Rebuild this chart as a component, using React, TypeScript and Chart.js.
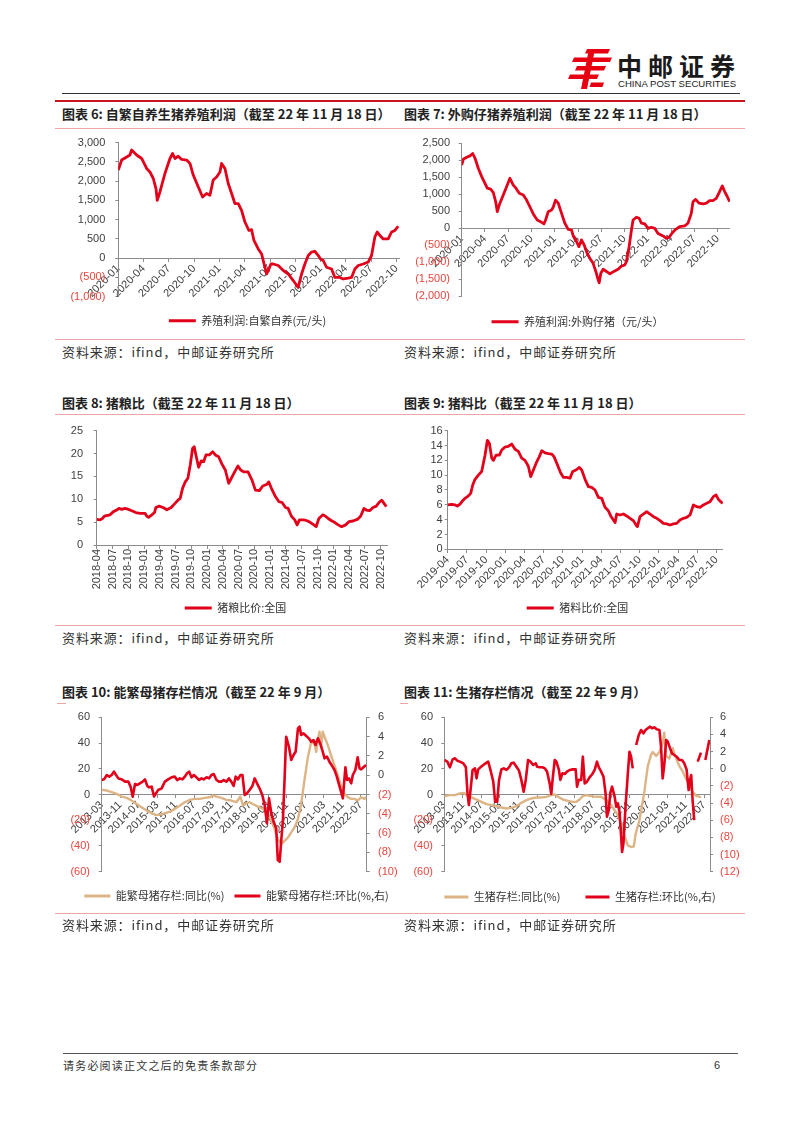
import { useEffect, useRef } from 'react';
import { Chart, registerables } from 'chart.js';

Chart.register(...registerables);

const CJK = "'Noto Sans CJK SC', 'Noto Sans', sans-serif";
const LAT = "'Liberation Sans', Arial, sans-serif";
const RED = '#E2001A';
const TAN = '#DDB485';
const AXIS = '#8C8C8C';
const TXT = '#404040';
const NEG = '#E8463E';
const RULE = '#EBA6A6';
const FS = 11;

// ---------- tick labels ----------
const ticksProfit = ['2020-01', '2020-04', '2020-07', '2020-10', '2021-01', '2021-04', '2021-07', '2021-10', '2022-01', '2022-04', '2022-07', '2022-10'];
const ticksGrain = ['2018-04', '2018-07', '2018-10', '2019-01', '2019-04', '2019-07', '2019-10', '2020-01', '2020-04', '2020-07', '2020-10', '2021-01', '2021-04', '2021-07', '2021-10', '2022-01', '2022-04', '2022-07', '2022-10'];
const ticksFeed = ['2019-04', '2019-07', '2019-10', '2020-01', '2020-04', '2020-07', '2020-10', '2021-01', '2021-04', '2021-07', '2021-10', '2022-01', '2022-04', '2022-07', '2022-10'];
const ticksStock = ['2013-03', '2013-11', '2014-07', '2015-03', '2015-11', '2016-07', '2017-03', '2017-11', '2018-07', '2019-03', '2019-11', '2020-07', '2021-03', '2021-11', '2022-07'];

// ---------- Chart 6: self-bred profit (months since 2020-01) ----------
const selfT = [0, 0.4, 1.38, 1.58, 2.17, 2.77, 3.36, 3.75, 4.15, 4.47, 4.62, 4.94, 5.53, 6.13, 6.44, 6.72, 7.11, 7.51, 8.1, 8.5, 8.89, 9.49, 10.0, 10.47, 10.87, 11.26, 11.66, 12.06, 12.25, 12.65, 13.04, 13.44, 13.83, 14.23, 14.62, 15.02, 15.49, 15.81, 16.09, 16.6, 17.0, 17.39, 17.59, 17.79, 18.1, 18.38, 18.97, 19.57, 20.16, 20.75, 21.34, 21.74, 22.13, 22.53, 22.92, 23.32, 23.72, 23.99, 24.31, 24.7, 25.3, 25.69, 26.28, 26.68, 27.27, 27.67, 28.06, 28.46, 29.05, 29.64, 30.04, 30.43, 30.71, 31.03, 31.42, 32.02, 32.41, 32.81, 33.2];
const selfV = [2290, 2550, 2680, 2810, 2680, 2590, 2330, 2240, 2070, 1810, 1500, 1720, 2200, 2590, 2720, 2590, 2650, 2565, 2550, 2460, 2160, 1850, 1590, 1680, 1635, 2030, 2110, 2240, 2460, 2330, 1940, 1680, 1420, 1420, 1240, 940, 720, 740, 460, 240, 110, -235, -410, -320, -150, -150, -190, -320, -410, -580, -760, -410, -150, 70, 160, 180, 70, -20, -60, -235, -280, -500, -500, -540, -520, -500, -280, -190, -150, -100, 70, 550, 680, 590, 500, 500, 680, 720, 830];

// ---------- Chart 7: purchased-piglet profit (months since 2020-01) ----------
const buyT = [0, 0.21, 0.64, 1.07, 1.42, 1.72, 2.15, 2.58, 3.0, 3.3, 3.73, 4.08, 4.38, 4.59, 4.85, 5.36, 5.79, 6.22, 6.65, 7.0, 7.42, 7.94, 8.37, 8.88, 9.31, 9.74, 10.17, 10.6, 10.82, 11.16, 11.59, 11.8, 12.1, 12.45, 12.88, 13.3, 13.73, 14.16, 14.38, 14.81, 15.11, 15.45, 15.79, 16.18, 16.52, 16.95, 17.3, 17.6, 17.73, 17.94, 18.24, 18.67, 19.1, 19.61, 20.17, 20.6, 21.03, 21.24, 21.59, 21.89, 22.1, 22.53, 22.88, 23.18, 23.61, 24.03, 24.46, 24.89, 25.32, 25.97, 26.39, 26.74, 27.17, 27.6, 28.11, 28.76, 29.18, 29.61, 29.83, 30.17, 30.6, 31.12, 31.55, 31.97, 32.4, 32.83, 33.26, 33.61, 33.91, 34.21, 34.55];
const buyV = [1860, 2030, 2090, 2130, 2200, 2060, 1760, 1520, 1320, 1180, 1150, 1050, 780, 490, 690, 980, 1225, 1470, 1270, 1180, 1030, 980, 830, 590, 390, 245, 195, 130, 245, 490, 540, 620, 830, 740, 440, 150, -30, -50, -225, -390, -540, -340, -490, -735, -880, -1030, -1270, -1520, -1600, -1320, -1205, -1270, -1340, -1270, -1205, -1110, -1080, -980, -540, -50, 245, 325, 295, 150, 130, 0, 30, 0, -150, -225, -295, -265, -130, -30, 50, 70, 150, 440, 780, 850, 740, 715, 740, 815, 815, 880, 1080, 1245, 1080, 950, 780];

// ---------- Chart 8: hog/grain ratio (months since 2018-04) ----------
const grainT = [0, 0.64, 1.08, 1.46, 2.1, 2.54, 3.18, 3.81, 4.26, 4.76, 5.4, 6.04, 6.67, 7.43, 8.26, 9.21, 9.53, 9.85, 10.48, 10.99, 11.25, 11.88, 12.71, 13.34, 14.17, 14.8, 15.44, 15.88, 16.33, 16.84, 17.34, 17.79, 18.23, 18.55, 18.87, 19.38, 19.89, 20.33, 20.78, 21.41, 22.05, 22.55, 23.19, 23.82, 24.46, 25.1, 25.6, 26.24, 26.87, 27.38, 27.95, 28.78, 29.54, 30.18, 30.94, 31.58, 32.4, 32.72, 33.23, 33.99, 34.63, 35.26, 35.9, 36.4, 37.04, 37.67, 38.12, 38.56, 39.39, 40.03, 40.66, 41.3, 41.74, 42.25, 43.01, 43.52, 44.03, 44.66, 45.3, 45.93, 46.57, 47.33, 47.97, 48.73, 49.56, 50.19, 50.83, 51.27, 51.91, 52.54, 53.18, 53.68, 54.19, 54.64, 55.08];
const grainV = [5.6, 5.5, 5.8, 6.3, 6.5, 6.6, 7.3, 7.65, 8.0, 7.8, 8.0, 7.8, 7.5, 7.1, 6.9, 6.9, 6.3, 6.05, 6.6, 7.1, 8.2, 8.5, 8.15, 7.7, 8.2, 9.0, 9.8, 10.2, 12.4, 13.8, 14.6, 17.5, 21.1, 21.5, 19.7, 17.0, 18.4, 18.2, 19.7, 19.7, 20.4, 19.7, 19.3, 17.7, 16.4, 13.5, 14.6, 16.0, 17.3, 16.4, 16.0, 16.0, 14.2, 12.0, 11.9, 12.9, 13.3, 13.8, 12.4, 10.6, 9.5, 9.3, 8.2, 8.0, 6.3, 5.5, 4.4, 5.5, 5.5, 5.3, 4.9, 4.4, 4.0, 5.8, 6.6, 6.3, 5.8, 5.3, 4.9, 4.4, 4.0, 4.4, 5.1, 5.25, 5.6, 6.3, 8.0, 7.65, 7.5, 8.2, 8.5, 9.3, 9.8, 9.1, 8.4];

// ---------- Chart 9: hog/feed ratio (months since 2019-04) ----------
const feedT = [0, 0.63, 1.15, 1.51, 1.93, 2.34, 2.71, 3.23, 3.59, 3.91, 4.27, 4.79, 5.31, 5.83, 6.2, 6.51, 6.88, 7.14, 7.55, 8.07, 8.44, 8.96, 9.48, 10.0, 10.52, 11.04, 11.56, 12.08, 12.6, 12.97, 13.39, 13.91, 14.32, 14.69, 15.21, 15.73, 16.25, 16.61, 17.14, 17.66, 18.07, 18.59, 19.11, 19.53, 20.05, 20.57, 20.94, 21.46, 21.98, 22.5, 23.02, 23.54, 24.06, 24.58, 25.1, 25.47, 25.89, 26.15, 26.41, 26.93, 27.45, 27.97, 28.49, 29.01, 29.43, 29.64, 30.05, 30.57, 31.09, 31.61, 32.14, 32.66, 33.18, 33.7, 34.22, 34.74, 35.26, 35.78, 36.3, 36.82, 37.34, 37.86, 38.39, 38.91, 39.43, 39.95, 40.47, 40.99, 41.51, 41.93, 42.29, 42.66, 42.97];
const feedV = [5.98, 6.07, 5.98, 5.84, 6.1, 6.56, 6.88, 7.2, 7.55, 8.67, 9.44, 10.0, 10.5, 12.7, 14.7, 14.3, 12.3, 12.0, 12.7, 12.7, 13.4, 13.8, 13.9, 14.2, 13.5, 13.2, 12.3, 12.0, 11.2, 9.8, 10.7, 11.8, 12.5, 13.3, 13.0, 12.9, 12.85, 12.5, 11.4, 10.3, 9.7, 9.7, 9.6, 10.5, 10.7, 11.05, 10.7, 9.44, 8.45, 8.36, 8.0, 7.0, 6.88, 5.66, 5.2, 4.5, 3.96, 3.6, 4.76, 4.63, 4.76, 4.5, 4.18, 3.87, 3.28, 3.06, 4.4, 4.76, 5.08, 4.76, 4.4, 4.18, 3.87, 3.5, 3.42, 3.28, 3.42, 3.5, 3.96, 4.18, 4.31, 4.63, 5.98, 5.75, 5.66, 5.98, 6.2, 6.43, 7.1, 7.33, 6.74, 6.43, 6.2];

// ---------- Chart 10: breeding sows (months since 2013-03) ----------
const sowYoYT = [0, 2.2, 4.3, 6.5, 8.6, 10.8, 12.9, 15.1, 17.2, 19.4, 21.6, 23.4, 25.1, 27.3, 29.5, 31.6, 33.8, 35.9, 38.1, 40.2, 42.4, 44.5, 46.7, 48.1, 49.6, 51.7, 53.9, 56.0, 58.2, 59.9, 61.1, 62.5, 63.9, 65.7, 67.5, 69.7, 71.8, 73.3, 74.7, 76.1, 77.6, 79.0, 80.5, 81.9, 83.3, 84.8, 86.2, 87.6, 89.1, 90.5, 92.0, 92.7, 93.4, 94.1, 94.8, 95.5, 96.3, 97.7, 99.1, 100.6, 102.0, 103.4, 104.9, 106.3, 107.8, 109.2, 110.6, 112.1, 113.5, 114.2];
const sowYoYV = [3.6, 3.1, 1.8, 0.5, -1.6, -2.6, -4.7, -7.3, -9.9, -12.5, -14.6, -15.9, -15.6, -14.6, -13.3, -11.2, -8.6, -6.0, -4.2, -3.4, -3.4, -2.6, -2.1, -0.8, -1.6, -2.6, -4.2, -4.7, -6.0, -1.6, -8.6, -6.8, -6.0, -7.8, -9.4, -11.2, -15.1, -20.3, -26.9, -34.7, -38.6, -36.0, -33.4, -29.5, -25.6, -19.0, -7.3, 11.0, 29.2, 40.9, 39.1, 33.1, 42.2, 48.8, 37.0, 48.8, 44.9, 38.3, 30.5, 22.7, 14.9, 7.0, 0.5, -2.1, -3.4, -3.4, -4.7, -2.1, -3.4, -2.1];
const sowMoMT = [0, 1.0, 2.2, 3.3, 4.3, 5.3, 6.2, 7.2, 8.6, 10.1, 11.5, 12.5, 13.4, 14.4, 15.4, 16.5, 17.7, 18.7, 19.7, 20.5, 21.6, 22.6, 23.4, 24.4, 25.9, 27.3, 28.7, 30.2, 31.6, 32.6, 33.8, 34.9, 35.9, 36.9, 37.8, 38.8, 39.8, 40.9, 42.1, 43.1, 44.1, 45.3, 46.4, 47.4, 48.4, 49.6, 50.7, 51.7, 52.7, 53.9, 55.0, 56.0, 57.0, 57.9, 58.9, 59.9, 60.8, 61.8, 62.8, 63.9, 65.1, 66.1, 67.1, 68.2, 69.4, 70.4, 71.4, 72.3, 73.3, 74.3, 75.4, 76.1, 76.9, 77.6, 78.3, 79.0, 79.7, 80.9, 81.9, 82.9, 83.8, 84.8, 85.5, 86.2, 87.2, 88.4, 89.5, 90.5, 91.5, 92.4, 93.4, 94.4, 95.3, 96.3, 97.3, 98.4, 99.6, 100.6, 101.6, 102.4, 103.4, 104.2, 104.9, 105.3, 106.0, 106.8, 107.8, 108.5, 109.6, 110.6, 111.4, 112.1, 113.1, 114.2];
const sowMoMV = [-0.5, -0.43, 0.02, -0.15, 0.02, 0.37, 0.02, -0.33, -0.43, -0.67, -0.67, -1.19, -2.23, -0.91, -1.02, -0.84, -0.67, -0.43, -1.12, -1.26, -1.19, -2.2, -1.9, -1.53, -1.36, -0.67, -0.43, -0.22, -0.15, -0.5, -0.33, -0.43, -0.15, 0.19, 0.37, -0.22, 0.02, -0.22, -0.5, -0.33, -0.43, -0.22, -0.33, 0.02, 0.12, -0.5, -0.67, -0.67, -0.5, -0.67, -0.33, -0.67, -1.12, -0.15, -0.43, 0.02, 0.02, -2.06, -1.88, -1.53, -1.12, -0.33, -0.84, -1.36, -2.06, -3.1, -5.0, -2.4, -3.96, -4.83, -5.51, -8.8, -8.97, -6.7, -4.65, -0.5, 3.99, 2.95, 1.57, 2.09, 2.43, 4.85, 5.03, 4.17, 4.34, 4.06, 3.82, 3.47, 3.64, 3.13, 3.82, 3.3, 2.61, 1.75, 1.92, 1.4, 0.95, 0.54, -0.15, -0.84, -1.71, -2.4, -0.33, 0.82, -0.5, -0.33, -0.84, 0.02, 0.54, 1.85, 0.71, 0.61, 0.82, 1.06];

// ---------- Chart 11: live hogs (months since 2013-03) ----------
const hogYoYT = [0, 2.4, 4.6, 6.7, 8.5, 9.6, 11.7, 13.9, 16.0, 18.2, 20.3, 22.5, 24.6, 26.8, 28.9, 31.1, 33.2, 35.4, 37.5, 39.7, 41.8, 44.0, 46.1, 47.6, 49.0, 51.1, 53.3, 55.4, 56.9, 58.3, 59.7, 61.2, 63.3, 65.5, 67.6, 69.8, 71.9, 73.4, 74.8, 76.2, 77.6, 79.1, 80.5, 81.7, 82.4, 84.1, 86.2, 87.7, 89.1, 89.8, 91.3, 92.7, 94.1, 94.8, 95.6, 97.0, 98.4, 99.9, 101.3, 102.7, 104.2, 105.6, 107.0, 108.5, 110.6];
const hogYoYV = [-1.3, -0.5, -0.5, 0.8, 1.3, -0.5, -2.3, -3.9, -5.7, -7.5, -8.3, -9.1, -10.1, -10.9, -10.4, -9.1, -6.5, -4.4, -3.1, -2.3, -2.3, -1.8, -0.5, 0, -1.8, -3.9, -4.9, -5.7, -5.7, -3.9, -1.3, -0.5, -1.3, -1.8, -1.8, -4.4, -8.3, -12.2, -16.1, -22.6, -31.7, -39.5, -40.8, -40.3, -31, -20, 2, 22, 31, 33, 30, 33, 40, 48, 30, 28, 36, 28, 22, 18, 12, 8, 2, -1, -2];
const hogMoMT = [0, 1.3, 2.4, 3.6, 4.6, 5.6, 6.7, 8.2, 9.3, 10.0, 10.6, 11.3, 12.2, 13.2, 13.9, 14.6, 15.6, 16.8, 18.2, 18.9, 19.9, 21.1, 21.9, 22.8, 23.6, 24.6, 25.6, 26.8, 27.9, 28.9, 29.9, 31.1, 32.2, 33.2, 34.2, 35.1, 36.1, 37.1, 38.3, 39.4, 40.0, 41.1, 42.3, 43.3, 44.3, 45.4, 46.1, 46.8, 47.6, 48.3, 49.4, 50.0, 50.9, 51.9, 52.9, 54.0, 55.4, 56.6, 57.2, 57.9, 59.0, 59.7, 60.5, 61.5, 62.6, 63.8, 64.8, 65.8, 66.6, 67.6, 68.6, 69.5, 70.1, 70.9, 71.5, 72.3, 73.4, 74.1, 74.8, 75.5, 76.2, 76.6, 77.2, 78.1, 79.1, 79.8, 80.5, 81.2, 82.0, 82.7, 83.8, 84.8, 85.8, 86.7, 87.7, 88.7, 89.5, 90.5, 91.5, 92.7, 93.4, 94.1, 94.8, 95.6, 96.3, 97.3, 98.1, 99.1, 100.1, 101.3, 102.4, 103.4, 104.4, 105.3, 105.9, 106.4, 107.0, 107.7, 108.5, 109.2, 110.6, 111.5, 112.5, 113.5, 114.2];
const hogMoMV = [1.02, 0.83, 0.17, 1.1, 1.22, 0.94, 0.83, 0.63, 0.17, -2.87, -4.23, -2.48, -0.14, 0.05, -1.12, -0.07, 0.17, 0.44, 0.71, 0.83, -0.14, -1.5, -3.83, -3.83, -1.3, -0.07, 0.05, -0.14, 0.17, 0.63, 0.71, 0.24, -0.22, -1.3, -2.67, -1.3, 1.02, 0.83, 0.44, 0.63, 0.24, 0.17, 0.17, 0.05, -0.34, -1.7, -2.94, -0.92, 1.02, 0.83, -0.14, -1.3, -0.53, -0.61, -0.34, -0.14, -0.07, -0.07, -2.09, -1.3, -1.3, 1.41, -1.7, -1.5, -1.0, -0.61, -0.14, 0.83, 0.17, -0.34, -0.92, -2.87, -5.59, -4.8, -2.87, -2.09, -3.25, -4.42, -4.03, -5.0, -7.9, -9.7, -8.7, -4.42, -0.53, 1.99, 1.41, 0.05, null, 2.77, 3.94, 4.52, 4.13, 4.52, 4.72, 4.91, 4.72, 4.83, 4.6, 4.52, 2.57, -1.12, 0.44, 3.36, 3.16, 2.38, 1.8, 1.61, 1.41, 1.02, 1.02, 0.63, -0.07, -2.48, -1.3, -0.73, -3.64, -5.98, null, 0.83, 1.88, null, 1.02, 2.38, 3.36];

// ---------- helpers ----------
type Axis = { min: number; max: number; step: number; comma?: boolean; pad: number };
type Series = { label: string; t: number[]; v: (number | null)[]; color: string; width: number; axis?: string; order?: number };
type Spec = {
  cx: number; cy: number; L: number; R: number; T: number; B: number; Ly: number; Lc: number;
  clipW?: number; legendPad: number; boxW: number;
  xMax: number; xStep: number; xLabels: string[]; xRot: number;
  y: Axis; y1?: Axis; series: Series[];
};

function fmt(v: number, comma: boolean) {
  const a = Math.abs(v);
  let s = String(Math.round(a * 100) / 100);
  if (comma) s = s.replace(/\B(?=(\d{3})+(?!\d))/g, ',');
  return v < 0 ? `(${s})` : s;
}

function geometry(s: Spec) {
  const legendH = FS + s.legendPad + 10;
  const shift = s.Ly - s.B - s.legendPad - FS / 2;
  const ch = Math.ceil(s.B - s.cy + legendH + Math.max(shift, 0) + 4);
  const padT = s.T - s.cy;
  const padB = ch - (s.B - s.cy) - legendH;
  let cw: number;
  let padR = 0;
  let wr = 0;
  const wl = s.L - s.cx;
  if (s.y1) {
    cw = Math.round(2 * (s.Lc - s.cx));
    wr = s.cx + cw - s.R;
  } else {
    cw = Math.ceil(s.R - s.cx);
    padR = s.cx + cw - s.R;
  }
  const legendCentre = s.cx + (cw - padR) / 2;
  const dx = s.Lc - legendCentre;
  return { cw, ch, padT, padB, padL: 0, padR, wl, wr, shift, dx };
}

const legendShift = {
  id: 'legendShift',
  afterLayout(chart: any, _args: any, opts: any) {
    const l = chart.legend;
    if (l && opts) {
      l.top += opts.shift || 0;
      l.bottom += opts.shift || 0;
      l.left += opts.dx || 0;
      l.right += opts.dx || 0;
    }
  },
};

function yAxis(a: Axis, pos: string, width: number) {
  return {
    type: 'linear',
    position: pos,
    min: a.min,
    max: a.max,
    afterBuildTicks: (sc: any) => {
      const t: any[] = [];
      for (let v = a.min; v <= a.max + 1e-9; v += a.step) t.push({ value: v });
      sc.ticks = t;
    },
    afterFit: (sc: any) => {
      sc.width = width;
      sc.paddingTop = 0;
      sc.paddingBottom = 0;
      sc.paddingLeft = 0;
      sc.paddingRight = 0;
    },
    ticks: {
      autoSkip: false,
      padding: a.pad,
      color: (c: any) => (c.tick && c.tick.value < 0 ? NEG : TXT),
      font: { family: LAT, size: 11 },
      callback: (v: any) => fmt(Number(v), !!a.comma),
    },
    grid: { display: true, drawOnChartArea: false, drawTicks: true, tickLength: 3, color: AXIS },
    border: { display: true, color: AXIS, width: 1 },
  };
}

function buildConfig(s: Spec, g: ReturnType<typeof geometry>): any {
  const scales: any = {
    x: {
      type: 'linear',
      position: { y: 0 },
      min: 0,
      max: s.xMax,
      afterBuildTicks: (sc: any) => {
        sc.ticks = s.xLabels.map((_l, i) => ({ value: i * s.xStep }));
      },
      afterFit: (sc: any) => {
        sc.paddingLeft = 0;
        sc.paddingRight = 0;
        sc.paddingTop = 0;
        sc.paddingBottom = 0;
      },
      ticks: {
        autoSkip: false,
        minRotation: s.xRot,
        maxRotation: s.xRot,
        padding: 1,
        color: TXT,
        font: { family: LAT, size: 11 },
        callback: (_v: any, i: number) => s.xLabels[i],
      },
      grid: { display: true, drawOnChartArea: false, drawTicks: true, tickLength: 3, color: AXIS },
      border: { display: true, color: AXIS, width: 1 },
    },
    y: yAxis(s.y, 'left', g.wl),
  };
  if (s.y1) scales.y1 = yAxis(s.y1, 'right', g.wr);

  return {
    type: 'line',
    data: {
      datasets: s.series.map((se) => ({
        label: se.label,
        data: se.t.map((t, i) => ({ x: t, y: se.v[i] })),
        borderColor: se.color,
        backgroundColor: se.color,
        borderWidth: se.width,
        pointRadius: 0,
        tension: 0,
        spanGaps: false,
        yAxisID: se.axis || 'y',
        order: se.order || 0,
        borderJoinStyle: 'round',
      })),
    },
    options: {
      responsive: false,
      animation: false,
      devicePixelRatio: 1,
      events: [],
      layout: { padding: { top: g.padT, bottom: g.padB, left: g.padL, right: g.padR } },
      scales,
      plugins: {
        tooltip: { enabled: false },
        legendShift: { shift: g.shift, dx: g.dx },
        legend: {
          display: true,
          position: 'bottom',
          labels: {
            boxWidth: s.boxW,
            boxHeight: 3,
            padding: s.legendPad,
            color: '#333333',
            font: { family: CJK, size: FS },
            sort: (a: any, b: any) => a.datasetIndex - b.datasetIndex,
            generateLabels: (chart: any) =>
              (Chart as any).defaults.plugins.legend.labels
                .generateLabels(chart)
                .map((l: any) => ({ ...l, lineWidth: 0, fillStyle: l.strokeStyle })),
          },
        },
      },
    },
    plugins: [legendShift],
  };
}

function LineChart({ spec }: { spec: Spec }) {
  const ref = useRef<HTMLCanvasElement>(null);
  const g = geometry(spec);
  useEffect(() => {
    const chart = new Chart(ref.current as HTMLCanvasElement, buildConfig(spec, g));
    return () => chart.destroy();
  }, []);
  const clip = !!spec.clipW;
  const canvas = (
    <canvas
      ref={ref}
      width={g.cw}
      height={g.ch}
      style={{ position: 'absolute', left: clip ? 0 : spec.cx, top: clip ? 0 : spec.cy, width: g.cw, height: g.ch }}
    />
  );
  if (clip) {
    return (
      <div style={{ position: 'absolute', left: spec.cx, top: spec.cy, width: spec.clipW, height: g.ch, overflow: 'hidden' }}>
        {canvas}
      </div>
    );
  }
  return canvas;
}

// ---------- chart specs ----------
const spec6: Spec = {
  cx: 55, cy: 130, L: 118.3, R: 410, T: 142.7, B: 296.7, Ly: 320.7, Lc: 247.5, clipW: 345,
  legendPad: 10, boxW: 27, xMax: 34.6, xStep: 3, xLabels: ticksProfit, xRot: 45,
  y: { min: -1000, max: 3000, step: 500, comma: true, pad: 10 },
  series: [{ label: '养殖利润:自繁自养(元/头)', t: selfT, v: selfV, color: RED, width: 2.8 }],
};
const spec7: Spec = {
  cx: 403, cy: 130, L: 461.7, R: 730, T: 143.3, B: 296.3, Ly: 321.7, Lc: 577.5,
  legendPad: 10, boxW: 27, xMax: 34.6, xStep: 3, xLabels: ticksProfit, xRot: 45,
  y: { min: -2000, max: 2500, step: 500, comma: true, pad: 8.7 },
  series: [{ label: '养殖利润:外购仔猪（元/头）', t: buyT, v: buyV, color: RED, width: 2.8 }],
};
const spec8: Spec = {
  cx: 55, cy: 420, L: 96.7, R: 388, T: 430.7, B: 545, Ly: 608, Lc: 235.5,
  legendPad: 10, boxW: 27, xMax: 55.4, xStep: 3, xLabels: ticksGrain, xRot: 90,
  y: { min: 0, max: 25, step: 5, pad: 10.7 },
  series: [{ label: '猪粮比价:全国', t: grainT, v: grainV, color: RED, width: 2.8 }],
};
const spec9: Spec = {
  cx: 403, cy: 420, L: 447.7, R: 722.9, T: 430.7, B: 549.3, Ly: 608, Lc: 577.5,
  legendPad: 10, boxW: 27, xMax: 43, xStep: 3, xLabels: ticksFeed, xRot: 45,
  y: { min: 0, max: 16, step: 2, pad: 2 },
  series: [{ label: '猪料比价:全国', t: feedT, v: feedV, color: RED, width: 2.8 }],
};
const spec10: Spec = {
  cx: 55, cy: 706, L: 101.7, R: 366.7, T: 717.3, B: 871.7, Ly: 896, Lc: 236.5,
  legendPad: 10, boxW: 26, xMax: 114.5, xStep: 8, xLabels: ticksStock, xRot: 45,
  y: { min: -60, max: 60, step: 20, pad: 8.7 },
  y1: { min: -10, max: 6, step: 2, pad: 8.3 },
  series: [
    { label: '能繁母猪存栏:同比(%)', t: sowYoYT, v: sowYoYV, color: TAN, width: 2.4, order: 1 },
    { label: '能繁母猪存栏:环比(%,右)', t: sowMoMT, v: sowMoMV, color: RED, width: 2.6, axis: 'y1', order: 0 },
  ],
};
const spec11: Spec = {
  cx: 403, cy: 706, L: 444.3, R: 710, T: 717.3, B: 871.7, Ly: 897, Lc: 580,
  legendPad: 25, boxW: 24, xMax: 114.5, xStep: 8, xLabels: ticksStock, xRot: 45,
  y: { min: -60, max: 60, step: 20, pad: 8.3 },
  y1: { min: -12, max: 6, step: 2, pad: 7 },
  series: [
    { label: '生猪存栏:同比(%)', t: hogYoYT, v: hogYoYV, color: TAN, width: 2.4, order: 1 },
    { label: '生猪存栏:环比(%,右)', t: hogMoMT, v: hogMoMV, color: RED, width: 2.6, axis: 'y1', order: 0 },
  ],
};

// ---------- page text ----------
function Txt(props: { x: number; y: number; size: number; bold?: boolean; color?: string; spacing?: number; family?: string; children: any }) {
  const { x, y, size, bold, color, spacing, family, children } = props;
  return (
    <div
      style={{
        position: 'absolute',
        left: x,
        top: y - size * 0.7,
        fontSize: size,
        lineHeight: `${size * 1.4}px`,
        fontWeight: bold ? 700 : 400,
        color: color || '#222',
        letterSpacing: spacing ? `${spacing}px` : undefined,
        fontFamily: family || CJK,
        whiteSpace: 'nowrap',
      }}
    >
      {children}
    </div>
  );
}

function Rule({ x, y, w, h, c }: { x: number; y: number; w: number; h: number; c: string }) {
  return <div style={{ position: 'absolute', left: x, top: y, width: w, height: h, background: c }} />;
}

const SOURCE = '资料来源：ifind，中邮证券研究所';

export default function App() {
  return (
    <div style={{ position: 'absolute', left: 0, top: 0, width: 802, height: 1133, background: '#fff', overflow: 'hidden', fontFamily: CJK }}>
      {/* logo */}
      <svg style={{ position: 'absolute', left: 568, top: 49 }} width={44} height={40} viewBox="0 0 44 40">
        <g fill="#E60012">
          <polygon points="19,0 42,0 40,4.5 17,4.5" />
          <polygon points="6,8.5 44,8.5 42,13 4,13" />
          <polygon points="9,17 38,17 36,21.5 7,21.5" />
          <polygon points="2,25.5 31,25.5 29,30 0,30" />
          <polygon points="21,0 27,0 19,40 13,40" />
          <polygon points="23,33.5 36,33.5 34.5,38 21.5,38" />
        </g>
      </svg>
      <Txt x={617} y={65} size={25} bold spacing={6} color="#1a1a1a">中邮证券</Txt>
      <Txt x={618} y={83.5} size={9.6} family={LAT} color="#1a1a1a">CHINA POST SECURITIES</Txt>
      <Rule x={62} y={92.5} w={678} h={1} c="#333" />
      <Rule x={55} y={100} w={690} h={2} c="#C8161D" />

      {/* row 1 */}
      <Txt x={62} y={114} size={13} bold>图表 6: 自繁自养生猪养殖利润（截至 22 年 11 月 18 日）</Txt>
      <Txt x={404} y={114} size={13} bold>图表 7: 外购仔猪养殖利润（截至 22 年 11 月 18 日）</Txt>
      <Rule x={55} y={127.5} w={690} h={1} c={RULE} />
      <LineChart spec={spec6} />
      <LineChart spec={spec7} />
      <Rule x={55} y={339} w={690} h={1} c={RULE} />
      <Txt x={62} y={352} size={13} spacing={0.9} color="#333">{SOURCE}</Txt>
      <Txt x={404} y={352} size={13} spacing={0.9} color="#333">{SOURCE}</Txt>

      {/* row 2 */}
      <Txt x={62} y={403} size={13} bold>图表 8: 猪粮比（截至 22 年 11 月 18 日）</Txt>
      <Txt x={404} y={403} size={13} bold>图表 9: 猪料比（截至 22 年 11 月 18 日）</Txt>
      <Rule x={55} y={414} w={690} h={1} c={RULE} />
      <LineChart spec={spec8} />
      <LineChart spec={spec9} />
      <Rule x={55} y={625} w={690} h={1} c={RULE} />
      <Txt x={62} y={638} size={13} spacing={0.9} color="#333">{SOURCE}</Txt>
      <Txt x={404} y={638} size={13} spacing={0.9} color="#333">{SOURCE}</Txt>

      {/* row 3 */}
      <Txt x={62} y={692} size={13} bold>图表 10: 能繁母猪存栏情况（截至 22 年 9 月）</Txt>
      <Txt x={404} y={692} size={13} bold>图表 11: 生猪存栏情况（截至 22 年 9 月）</Txt>
      <Rule x={57} y={703} w={9} h={1} c={RULE} />
      <Rule x={400} y={703} w={8} h={1} c={RULE} />
      <LineChart spec={spec10} />
      <LineChart spec={spec11} />
      <Rule x={55} y={913} w={690} h={1} c={RULE} />
      <Txt x={62} y={925} size={13} spacing={0.9} color="#333">{SOURCE}</Txt>
      <Txt x={404} y={925} size={13} spacing={0.9} color="#333">{SOURCE}</Txt>

      {/* footer */}
      <Rule x={63} y={1052.5} w={675} h={1.5} c="#555" />
      <Txt x={63} y={1066} size={11} spacing={1.2} color="#333">请务必阅读正文之后的免责条款部分</Txt>
      <Txt x={714} y={1066} size={11} family={LAT} color="#333">6</Txt>
    </div>
  );
}
